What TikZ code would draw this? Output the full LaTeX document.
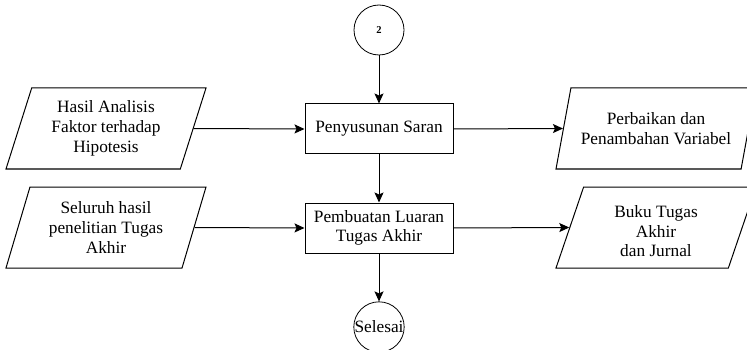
\documentclass[tikz,border=0pt]{standalone}
\usepackage{fontspec}
\setmainfont{Liberation Serif}
\usetikzlibrary{arrows.meta, shapes.geometric}

\begin{document}
\begin{tikzpicture}[x=1pt, y=-1pt,
    teks/.style={font=\fontsize{17.3}{19.7}\selectfont},
    proses/.style={draw, line width=1pt, minimum width=148pt, minimum height=50pt, align=center, teks},
    data/.style={draw, line width=1pt, trapezium, trapezium left angle=65, trapezium right angle=115,
        trapezium stretches body=true, minimum width=200pt, minimum height=81pt, inner sep=0pt, align=center, teks},
    konektor/.style={draw, circle, line width=0.8pt, minimum size=50pt, inner sep=0pt},
    panah/.style={-{Stealth[length=10pt, width=9pt, inset=2pt]}, line width=1pt}]

      % Define column positions
      \def\kiri{106}
      \def\tengah{379}
      \def\kanan{656}

      \useasboundingbox (0,0) rectangle (747,350);

      % Draw the connectors
      \node[konektor, font=\fontsize{10.5}{12}\selectfont\bfseries] (dua) at (\tengah,30) {2};
      \node[konektor, teks] (selesai) at (\tengah,327) {Selesai};

      % Draw the process boxes
      \node[proses] (saran) at (\tengah,129) {Penyusunan Saran};
      \node[proses] (luaran) at (\tengah,228) {Pembuatan Luaran\\Tugas Akhir};

      % Draw the input and output data
      \node[data] (hasil) at (\kiri,128.5) {Hasil Analisis\\Faktor terhadap\\Hipotesis};
      \node[data] (seluruh) at (\kiri,227.5) {Seluruh hasil\\penelitian Tugas\\Akhir};
      \node[data] (perbaikan) at (\kanan,128.5) {Perbaikan dan\\Penambahan Variabel};
      \node[data] (buku) at (\kanan,227.5) {\mbox{}\\Buku Tugas\\Akhir\\ dan Jurnal};

      % Draw the arrows
      \draw[panah] (dua) -- (saran);
      \draw[panah] (saran) -- (luaran);
      \draw[panah] (luaran) -- (selesai);
      \draw[panah] (hasil.east) -- (saran.west);
      \draw[panah] (seluruh.east) -- (luaran.west);
      \draw[panah] (saran.east) -- (perbaikan.west);
      \draw[panah] (luaran.east) -- (buku.west);
    \end{tikzpicture}
\end{document}
